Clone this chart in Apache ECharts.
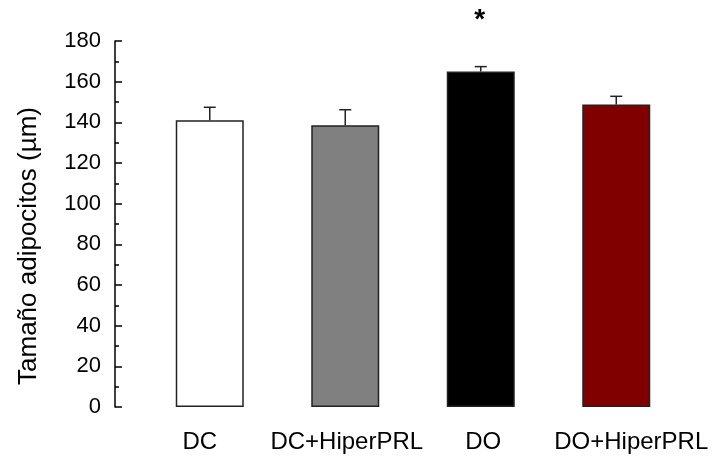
<!DOCTYPE html>
<html>
<head>
<meta charset="utf-8">
<script src="https://cdn.jsdelivr.net/npm/echarts@6/dist/echarts.min.js"></script>
<style>
  html, body { margin: 0; padding: 0; background: #fff; }
  #chart { width: 721px; height: 459px; }
</style>
</head>
<body>
<div id="chart"></div>
<script>
const groups = ['DC', 'DC+HiperPRL', 'DO', 'DO+HiperPRL']
const means = [141, 138.6, 165, 148.8]
const upper = [147.4, 146.2, 167.4, 152.8]
const marks = ['', '', '*', '']
const barColors = ['#ffffff', '#808080', '#000000', '#800000']

const font = 'Liberation Sans, Arial, sans-serif'
const chart = echarts.init(document.getElementById('chart'))

const errData = groups.map((g, i) => [i, means[i], upper[i]])

// small horizontal nudges so labels sit where the original put them
const labelPad = [[0, 20, 0, 0], [0, 0, 0, 3], [0, 0, 0, 5], [0, 0, 0, 30]]
const rich = {}
labelPad.forEach((p, i) => { rich['l' + i] = { padding: p } })

chart.setOption({
  animation: false,
  grid: { left: 142, right: 37, top: 41, bottom: 52 },
  xAxis: {
    type: 'category',
    data: groups,
    axisLine: { show: false },
    axisTick: { show: false },
    axisLabel: {
      interval: 0,
      margin: 23,
      color: '#000',
      fontSize: 24,
      fontFamily: font,
      formatter (v, i) { return `{l${i}|${v}}` },
      rich
    }
  },
  yAxis: {
    type: 'value',
    min: 0,
    max: 180,
    interval: 20,
    offset: 27,
    splitLine: { show: false },
    axisLine: { show: true, lineStyle: { color: '#000', width: 1.5 } },
    axisTick: { show: true, inside: true, length: 7, lineStyle: { color: '#000', width: 1.5 } },
    minorTick: { show: true, splitNumber: 2, length: 4, lineStyle: { color: '#000', width: 1.5 } },
    axisLabel: { color: '#000', fontSize: 22, fontFamily: font, margin: 14 }
  },
  graphic: [{
    type: 'text',
    x: 29,
    y: 246,
    rotation: Math.PI / 2,
    style: {
      text: 'Tamaño adipocitos (µm)',
      font: '26px ' + font,
      fill: '#000',
      align: 'center',
      verticalAlign: 'middle'
    }
  }],
  series: [
    {
      type: 'bar',
      barWidth: 68,
      data: means.map((v, i) => ({
        value: v,
        itemStyle: { color: barColors[i] }
      })),
      itemStyle: { borderColor: '#222', borderWidth: 1.5 }
    },
    {
      type: 'custom',
      z: 5,
      data: errData,
      encode: { x: 0, y: [1, 2] },
      renderItem (params, api) {
        const base = api.coord([api.value(0), api.value(1)])
        const top = api.coord([api.value(0), api.value(2)])
        const style = { stroke: '#222', lineWidth: 1.5 }
        const children = [
          { type: 'line', shape: { x1: base[0], y1: base[1], x2: base[0], y2: top[1] }, style },
          { type: 'line', shape: { x1: base[0] - 6, y1: top[1], x2: base[0] + 6, y2: top[1] }, style }
        ]
        const mark = marks[params.dataIndex]
        if (mark) {
          children.push({
            type: 'text',
            x: base[0] - 1,
            y: top[1] - 46,
            style: {
              text: mark,
              font: 'bold 28px ' + font,
              fill: '#000',
              align: 'center',
              verticalAlign: 'middle'
            }
          })
        }
        return { type: 'group', children }
      }
    }
  ]
})
</script>
</body>
</html>
